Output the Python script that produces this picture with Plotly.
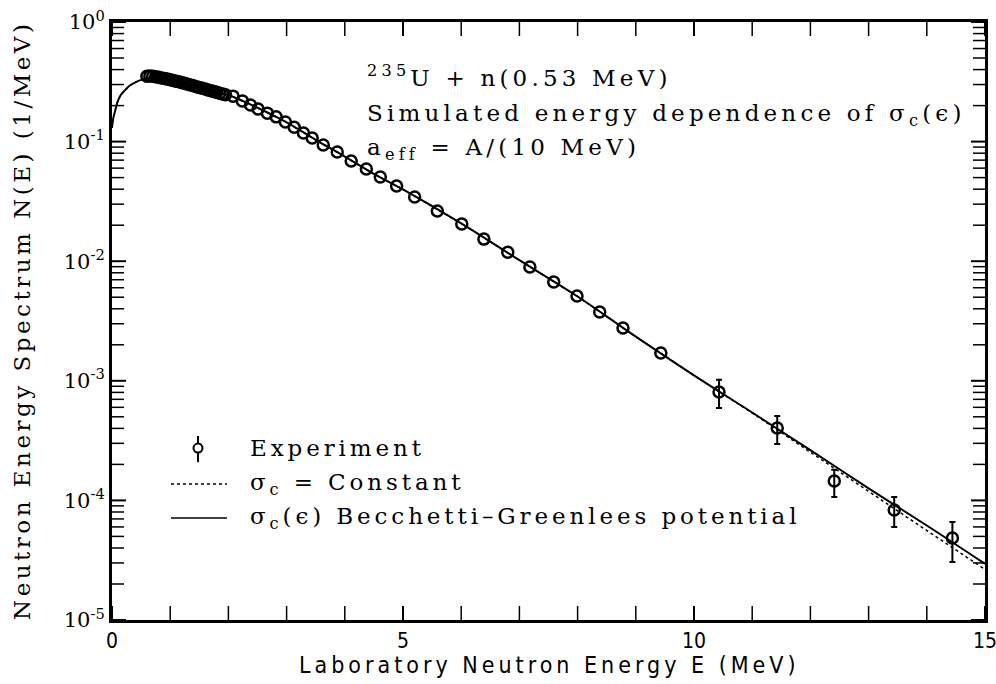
import plotly.graph_objects as go

# ---------------- data ----------------
E_exp = [0.60, 0.65, 0.70, 0.75, 0.80, 0.85, 0.90, 0.95, 1.00, 1.05, 1.10, 1.15, 1.20, 1.25,
         1.30, 1.35, 1.40, 1.45, 1.50, 1.55, 1.60, 1.65, 1.70, 1.75, 1.80, 1.85, 1.90, 1.95,
         2.08, 2.24, 2.38, 2.51, 2.67, 2.82, 2.98, 3.13, 3.29, 3.44, 3.63, 3.87, 4.11, 4.37,
         4.61, 4.89, 5.20, 5.59, 6.01, 6.39, 6.80, 7.18, 7.59, 7.99, 8.38, 8.78, 9.43]
N_exp = [0.352, 0.354, 0.352, 0.349, 0.345, 0.341, 0.337, 0.333, 0.329, 0.325, 0.320, 0.316,
         0.311, 0.307, 0.302, 0.297, 0.293, 0.288, 0.284, 0.279, 0.275, 0.270, 0.266, 0.262,
         0.258, 0.254, 0.250, 0.246,
         0.240, 0.219, 0.202, 0.187, 0.173, 0.161, 0.146, 0.132, 0.118, 0.107, 0.0937, 0.0818,
         0.0688, 0.0590, 0.0506, 0.0425, 0.0344, 0.0263, 0.0205, 0.0153, 0.0119, 0.00895,
         0.00670, 0.00512, 0.00376, 0.00276, 0.00171]
E_exp_hi = [10.43, 11.43, 12.41, 13.44, 14.44]
N_exp_hi = [0.000805, 0.000403, 0.000145, 8.3e-5, 4.85e-5]
err_up = [0.000215, 0.000105, 3.5e-5, 2.4e-5, 1.75e-5]
err_dn = [0.000212, 0.000107, 3.8e-5, 2.3e-5, 1.8e-5]

E_calc = [0.0, 0.02, 0.05, 0.1, 0.15, 0.2, 0.3, 0.4, 0.5, 0.6, 0.8, 1.0, 1.25, 1.5, 1.75,
          2.0, 2.5, 3.0, 3.5, 4.0, 4.5, 5.0, 6.0, 7.0, 8.0, 9.0, 10.0, 11.0, 12.0, 13.0,
          14.0, 15.0]
N_bg = [0.130, 0.155, 0.178, 0.218, 0.245, 0.262, 0.293, 0.313, 0.328, 0.338, 0.336, 0.324,
        0.304, 0.282, 0.263, 0.245, 0.192, 0.145, 0.1035, 0.075, 0.0537, 0.0398, 0.0207,
        0.0102, 0.00507, 0.00234, 0.00111, 0.000543, 0.000263, 0.000126, 6.17e-5, 2.95e-5]
N_const = [0.130, 0.155, 0.178, 0.218, 0.245, 0.262, 0.293, 0.313, 0.328, 0.338, 0.336, 0.324,
           0.304, 0.282, 0.263, 0.245, 0.192, 0.145, 0.1035, 0.075, 0.0537, 0.0398, 0.0207,
           0.0102, 0.00507, 0.00234, 0.00111, 0.000538, 0.000255, 0.000119, 5.6e-5, 2.65e-5]

x_range = [0, 15]
y_range_log = [-5, 0]
x_major = [0, 5, 10, 15]
x_labels = ["0", "5", "10", "15"]
x_minor = [1, 2, 3, 4, 6, 7, 8, 9, 11, 12, 13, 14]
y_major = [1e-5, 1e-4, 1e-3, 1e-2, 1e-1, 1e0]
y_labels = ["10<sup>-5</sup>", "10<sup>-4</sup>", "10<sup>-3</sup>", "10<sup>-2</sup>",
            "10<sup>-1</sup>", "10<sup>0</sup>"]
y_minor = [m * 10.0 ** d for d in range(-5, 0) for m in range(2, 10)]

W, H = 996, 684
M = dict(l=112, r=11, t=22, b=64)
px_per_x = (W - M["l"] - M["r"]) / (x_range[1] - x_range[0])       # pixels per MeV
px_per_dec = (H - M["t"] - M["b"]) / (y_range_log[1] - y_range_log[0])  # pixels per decade

SERIF = "DejaVu Serif, serif"
COND = "DejaVu Sans Condensed, Liberation Sans Narrow, DejaVu Sans, sans-serif"


def sp(t, ls=3.0):
    return '<span style="letter-spacing:%spx">%s</span>' % (ls, t)


marker_style = dict(symbol="circle-open", size=11, color="black",
                    line=dict(width=2.5, color="black"))

fig = go.Figure()
fig.add_trace(go.Scatter(x=E_calc, y=N_const, mode="lines",
                         line=dict(color="black", width=1.5, dash="3px,3px"),
                         showlegend=False))
fig.add_trace(go.Scatter(x=E_calc, y=N_bg, mode="lines", line_shape="spline",
                         line=dict(color="black", width=2), showlegend=False))
fig.add_trace(go.Scatter(x=E_exp, y=N_exp, mode="markers", marker=marker_style,
                         showlegend=False))
fig.add_trace(go.Scatter(x=E_exp_hi, y=N_exp_hi, mode="markers", marker=marker_style,
                         error_y=dict(type="data", symmetric=False, array=err_up,
                                      arrayminus=err_dn, color="black", thickness=2, width=3),
                         showlegend=False))

# ---- axis tick marks (drawn as zero-size points with bar whiskers of fixed pixel length)
inv = dict(size=0.1, color="rgba(0,0,0,0)")


def xtick_trace(vals, y_edge, up_px, dn_px, th):
    y0 = y_edge
    up = y0 * (10 ** (up_px / px_per_dec) - 1)
    dn = y0 * (1 - 10 ** (-dn_px / px_per_dec))
    return go.Scatter(x=vals, y=[y0] * len(vals), mode="markers", marker=inv,
                      cliponaxis=False, hoverinfo="skip", showlegend=False,
                      error_y=dict(type="data", symmetric=False, array=[up] * len(vals),
                                   arrayminus=[dn] * len(vals), color="black",
                                   thickness=th, width=0))


def ytick_trace(vals, x_edge, right_px, left_px, th):
    return go.Scatter(x=[x_edge] * len(vals), y=vals, mode="markers", marker=inv,
                      cliponaxis=False, hoverinfo="skip", showlegend=False,
                      error_x=dict(type="data", symmetric=False,
                                   array=[right_px / px_per_x] * len(vals),
                                   arrayminus=[left_px / px_per_x] * len(vals),
                                   color="black", thickness=th, width=0))


y_bot, y_top = 10 ** y_range_log[0], 10 ** y_range_log[1]
fig.add_trace(xtick_trace(x_major, y_bot, 14, 8, 2))
fig.add_trace(xtick_trace(x_minor, y_bot, 14, 0, 1.5))
fig.add_trace(xtick_trace(x_major, y_top, 0, 14, 2))
fig.add_trace(xtick_trace(x_minor, y_top, 0, 14, 1.5))
fig.add_trace(ytick_trace(y_major, x_range[0], 14, 0, 2))
fig.add_trace(ytick_trace(y_minor, x_range[0], 12, 0, 1.5))
fig.add_trace(ytick_trace(y_major, x_range[1], 0, 14, 2))
fig.add_trace(ytick_trace(y_minor, x_range[1], 0, 12, 1.5))

fig.update_layout(
    template="none",
    width=W, height=H,
    margin=dict(autoexpand=False, **M),
    xaxis=dict(range=x_range, tickmode="array", tickvals=x_major, ticktext=x_labels,
               ticks="", showline=True, linewidth=3, linecolor="black", mirror=True,
               showgrid=False, zeroline=False, automargin=False,
               ticklabeloverflow="allow",
               tickfont=dict(family=COND, size=21, color="black")),
    yaxis=dict(type="log", range=y_range_log, tickmode="array", tickvals=y_major,
               ticktext=y_labels, ticks="", showline=True, linewidth=3,
               linecolor="black", mirror=True, showgrid=False, zeroline=False,
               automargin=False, ticklabeloverflow="allow",
               tickfont=dict(family=SERIF, size=21, color="black")),
)

ann = []
ann.append(dict(text=sp("Laboratory Neutron Energy E (MeV)", 4), xref="paper", yref="paper",
                x=0.5017, y=-0.0745, showarrow=False, xanchor="center", yanchor="middle",
                font=dict(family=COND, size=23, color="black")))
ann.append(dict(text=sp("Neutron Energy Spectrum N(E) (1/MeV)", 3.5), xref="paper",
                yref="paper", x=-0.1031, y=0.5017, textangle=-90, showarrow=False,
                xanchor="center", yanchor="middle",
                font=dict(family=SERIF, size=23, color="black")))
info = [("<sup>235</sup>U + n(0.53 MeV)", 0.9098),
        ("Simulated energy dependence of σ<sub>c</sub>(ϵ)", 0.8445),
        ("a<sub>eff</sub> = A/(10 MeV)", 0.7876)]
for t, yy in info:
    ann.append(dict(text=sp(t, 4.2), xref="paper", yref="paper", x=0.2898, y=yy,
                    showarrow=False, xanchor="left", yanchor="middle",
                    font=dict(family=SERIF, size=23, color="black")))
leg = [("Experiment", 0.2876), ("σ<sub>c</sub> = Constant", 0.2274),
       ("σ<sub>c</sub>(ϵ) Becchetti–Greenlees potential", 0.1706)]
for t, yy in leg:
    ann.append(dict(text=sp(t, 3.9), xref="paper", yref="paper", x=0.1558, y=yy,
                    showarrow=False, xanchor="left", yanchor="middle",
                    font=dict(family=SERIF, size=23, color="black")))
fig.update_layout(annotations=ann)

# legend keys
shapes = [
    dict(type="line", xref="paper", yref="paper", x0=0.0676, x1=0.1317, y0=0.2274, y1=0.2274,
         line=dict(color="black", width=1.5, dash="3px,3px")),
    dict(type="line", xref="paper", yref="paper", x0=0.0676, x1=0.1317, y0=0.1706, y1=0.1706,
         line=dict(color="black", width=1.5)),
    dict(type="line", xref="paper", yref="paper", x0=0.0985, x1=0.0985, y0=0.264, y1=0.3077,
         line=dict(color="black", width=2)),
    dict(type="circle", xref="paper", yref="paper", xsizemode="pixel", ysizemode="pixel",
         xanchor=0.0985, yanchor=0.2876, x0=-4.5, x1=4.5, y0=-4.5, y1=4.5,
         line=dict(color="black", width=2), fillcolor="white"),
]
fig.update_layout(shapes=shapes)

fig.write_html("out.html", config={"displayModeBar": False},
               post_script="document.body.style.margin='0';")
